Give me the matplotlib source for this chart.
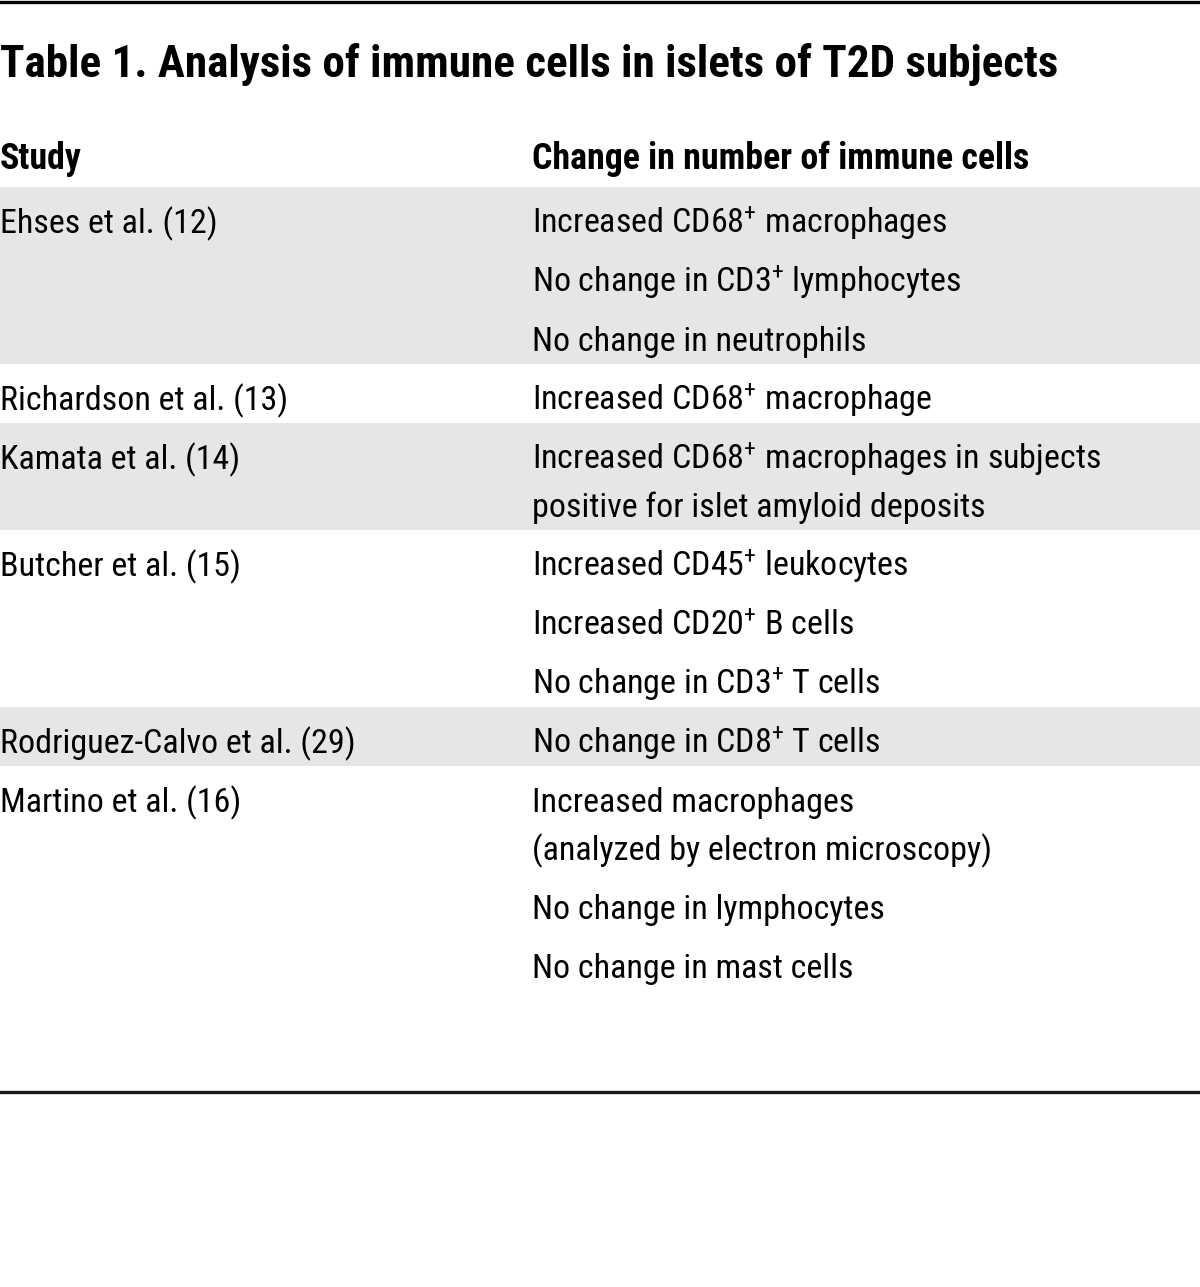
import matplotlib
matplotlib.use("Agg")
import matplotlib.pyplot as plt
from matplotlib import font_manager

# ---------- DATA ----------------------------------------------------------------
title = "Table 1. Analysis of immune cells in islets of T2D subjects"
headers = ["Study", "Change in number of immune cells"]
studies = ["Ehses et al. (12)",
           "Richardson et al. (13)",
           "Kamata et al. (14)",
           "Butcher et al. (15)",
           "Rodriguez-Calvo et al. (29)",
           "Martino et al. (16)"]
changes = [["Increased CD68$^{+}$ macrophages",
            "No change in CD3$^{+}$ lymphocytes",
            "No change in neutrophils"],
           ["Increased CD68$^{+}$ macrophage"],
           ["Increased CD68$^{+}$ macrophages in subjects\npositive for islet amyloid deposits"],
           ["Increased CD45$^{+}$ leukocytes",
            "Increased CD20$^{+}$ B cells",
            "No change in CD3$^{+}$ T cells"],
           ["No change in CD8$^{+}$ T cells"],
           ["Increased macrophages\n(analyzed by electron microscopy)",
            "No change in lymphocytes",
            "No change in mast cells"]]
shaded = [True, False, True, False, True, False]

# ---------- FONT ----------------------------------------------------------------
available = {f.name for f in font_manager.fontManager.ttflist}
font = "DejaVu Sans"
for cand in ["Roboto Condensed", "Liberation Sans Narrow", "DejaVu Sans Condensed", "Open Sans Condensed"]:
    if cand in available:
        font = cand
        break
plt.rcParams['font.family'] = [font, 'DejaVu Sans']
plt.rcParams['mathtext.fontset'] = 'custom'
plt.rcParams['mathtext.rm'] = font
plt.rcParams['mathtext.it'] = font
plt.rcParams['mathtext.bf'] = font + ':bold'

# ---------- LAYOUT (pixel coordinates) -----------------------------------------
W, H = 1200, 1287
fig = plt.figure(figsize=(W / 100, H / 100), dpi=100)
ax = fig.add_axes([0, 0, 1, 1])
ax.set_xlim(0, W)
ax.set_ylim(H, 0)
ax.axis('off')

col_x = [0, 532]
table_top = 187
entry_h = 59      # height of one entry
wrap_h = 48       # extra height for a wrapped line
base_off = 46     # first baseline below row top
body_fs = 24.5
gray = "#e6e6e6"

ax.axhline(1.5, color="black", lw=2.4)
ax.text(0, 77, title, fontsize=32.5, fontweight='bold', va='baseline', ha='left')
ax.text(col_x[0], 169, headers[0], fontsize=25.8, fontweight='bold', va='baseline')
ax.text(col_x[1], 169, headers[1], fontsize=25.8, fontweight='bold', va='baseline')

y = table_top
for study, items, shade in zip(studies, changes, shaded):
    row_h = sum(entry_h + wrap_h * item.count("\n") for item in items)
    if shade:
        ax.add_patch(plt.Rectangle((0, y), W, row_h, color=gray, lw=0, zorder=0))
    ax.text(col_x[0], y + base_off, study, fontsize=body_fs, va='baseline')
    yy = y
    for item in items:
        for k, line in enumerate(item.split("\n")):
            ax.text(col_x[1], yy + base_off + k * wrap_h, line, fontsize=body_fs, va='baseline')
        yy += entry_h + wrap_h * item.count("\n")
    y += row_h

ax.axhline(1091.5, color="#1a1a1a", lw=2.4)

fig.savefig("out.png", dpi=100, facecolor="white")
